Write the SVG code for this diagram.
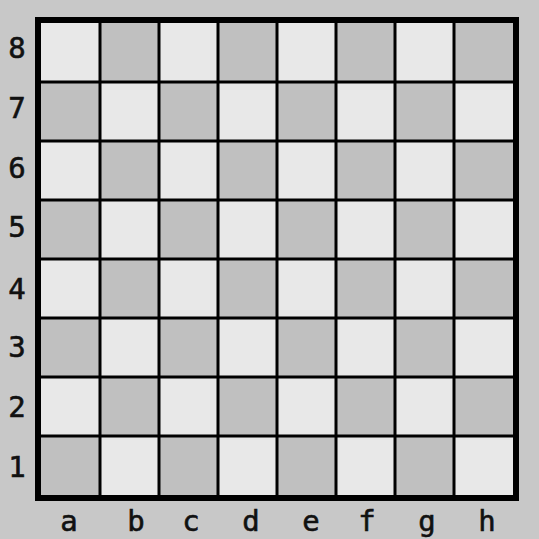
<svg xmlns="http://www.w3.org/2000/svg" width="539" height="539" viewBox="0 0 539 539">
<style>
.l{fill:#e8e8e8}.d{fill:#c0c0c0}
.t{font-family:"DejaVu Sans Mono","Liberation Mono",monospace;font-size:29px;fill:#111;stroke:#111;stroke-width:0.6;text-anchor:middle}
.g{stroke:#000;stroke-width:3;fill:none}
</style>
<rect width="539" height="539" fill="#c8c8c8"/>
<g id="board">
<g id="squares">
<rect class="l" x="41" y="23" width="472" height="472"/>
<g class="d">
<rect x="100" y="23" width="59" height="59"/><rect x="218" y="23" width="59" height="59"/><rect x="336" y="23" width="59" height="59"/><rect x="454" y="23" width="59" height="59"/>
<rect x="41" y="82" width="59" height="59"/><rect x="159" y="82" width="59" height="59"/><rect x="277" y="82" width="59" height="59"/><rect x="395" y="82" width="59" height="59"/>
<rect x="100" y="141" width="59" height="59"/><rect x="218" y="141" width="59" height="59"/><rect x="336" y="141" width="59" height="59"/><rect x="454" y="141" width="59" height="59"/>
<rect x="41" y="200" width="59" height="59"/><rect x="159" y="200" width="59" height="59"/><rect x="277" y="200" width="59" height="59"/><rect x="395" y="200" width="59" height="59"/>
<rect x="100" y="259" width="59" height="59"/><rect x="218" y="259" width="59" height="59"/><rect x="336" y="259" width="59" height="59"/><rect x="454" y="259" width="59" height="59"/>
<rect x="41" y="318" width="59" height="59"/><rect x="159" y="318" width="59" height="59"/><rect x="277" y="318" width="59" height="59"/><rect x="395" y="318" width="59" height="59"/>
<rect x="100" y="377" width="59" height="59"/><rect x="218" y="377" width="59" height="59"/><rect x="336" y="377" width="59" height="59"/><rect x="454" y="377" width="59" height="59"/>
<rect x="41" y="436" width="59" height="59"/><rect x="159" y="436" width="59" height="59"/><rect x="277" y="436" width="59" height="59"/><rect x="395" y="436" width="59" height="59"/>
</g>
</g>
<path class="g" d="M100 23V495M159 23V495M218 23V495M277 23V495M336 23V495M395 23V495M454 23V495M41 82H513M41 141H513M41 200H513M41 259H513M41 318H513M41 377H513M41 436H513"/>
<rect x="38" y="20" width="478" height="478" fill="none" stroke="#000" stroke-width="6"/>
</g>
<g id="ranks" class="t">
<text x="17" y="58">8</text><text x="17" y="118">7</text><text x="17" y="178">6</text><text x="17" y="237">5</text><text x="17" y="299">4</text><text x="17" y="357">3</text><text x="17" y="417">2</text><text x="17" y="477">1</text>
</g>
<g id="files" class="t">
<text x="69" y="531">a</text><text x="136" y="531">b</text><text x="191" y="531">c</text><text x="251" y="531">d</text><text x="311" y="531">e</text><text x="367" y="531">f</text><text x="427" y="531">g</text><text x="487" y="531">h</text>
</g>
</svg>
